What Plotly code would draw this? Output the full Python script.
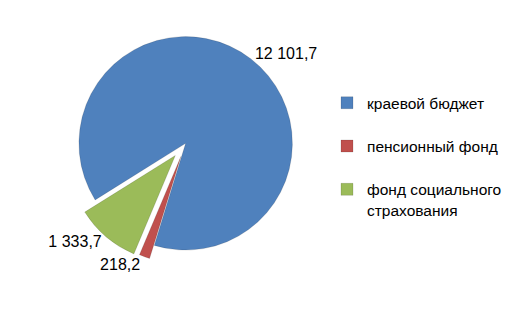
import plotly.graph_objects as go

categories = ["краевой бюджет", "пенсионный фонд", "фонд социального<br>страхования"]
values = [12101.7, 218.2, 1333.7]
colors = ["#4F81BD", "#C0504D", "#9BBB59"]

# legend entries padded to reproduce the tall spacing of the original legend
legend_labels = [c + "<br> " if "<br>" not in c else c for c in categories]

fig = go.Figure(go.Pie(
    labels=legend_labels,
    values=values,
    marker=dict(colors=colors, line=dict(color="rgba(0,0,0,0.25)", width=0.5)),
    sort=False,
    direction="clockwise",
    rotation=238,
    pull=[0, 0.13, 0.15],
    texttemplate="%{value:,.1f}",
    textposition="outside",
    textfont=dict(family="Liberation Sans, Arial", size=16, color="#000000"),
    domain=dict(x=[0.10, 0.66], y=[0.10, 0.98]),
    hole=0,
))

fig.update_layout(
    width=507, height=310,
    separators=", ",
    margin=dict(l=0, r=0, t=0, b=0),
    paper_bgcolor="white",
    plot_bgcolor="white",
    showlegend=True,
    legend=dict(
        x=0.69, y=0.745, xanchor="left", yanchor="top",
        valign="top",
        font=dict(family="Liberation Sans, Arial", size=15.5, color="#000000"),
        itemwidth=30,
    ),
)

fig.write_html("out.html")
